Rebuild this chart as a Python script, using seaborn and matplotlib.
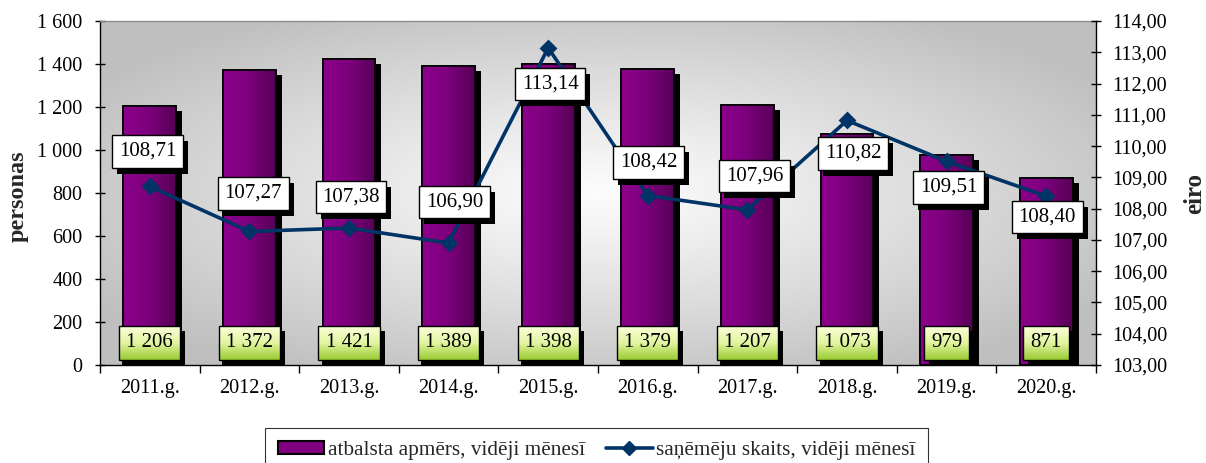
import numpy as np
import pandas as pd
import matplotlib
matplotlib.use("Agg")
import matplotlib.pyplot as plt
import seaborn as sns
import matplotlib.patheffects as pe
from matplotlib.patches import Rectangle, Patch
from matplotlib.lines import Line2D
from matplotlib.ticker import FuncFormatter
from matplotlib.colors import LinearSegmentedColormap

# ---------------- data ----------------
years = ["2011.g.", "2012.g.", "2013.g.", "2014.g.", "2015.g.",
         "2016.g.", "2017.g.", "2018.g.", "2019.g.", "2020.g."]
bar_values = [1206, 1372, 1421, 1389, 1398, 1379, 1207, 1073, 979, 871]
line_values = [108.71, 107.27, 107.38, 106.90, 113.14, 108.42, 107.96, 110.82, 109.51, 108.40]
bar_label = "atbalsta apmērs, vidēji mēnesī"
line_label = "saņēmēju skaits, vidēji mēnesī"
left_title = "personas"
right_title = "eiro"
left_ticks = list(range(0, 1601, 200))
right_ticks = list(range(103, 115))

# label offsets (pixels) for line value boxes
label_offsets = [(-2, 35), (4, 38), (2, 31), (6, 41), (2, -36),
                 (1, 33), (7, 34), (6, -33), (2, -26), (1, -21)]

BAR_COLOR = "#800080"
LINE_COLOR = "#003366"

sns.set_theme(style="white")
plt.rcParams["font.family"] = ["Liberation Serif", "DejaVu Serif"]

W, H = 1206, 463
fig = plt.figure(figsize=(W / 100, H / 100), dpi=100)
ax = fig.add_axes([100 / W, 98 / H, 996 / W, 344 / H])

df = pd.DataFrame({"year": years, "count": bar_values, "amount": line_values})

# background radial gradient
gx, gy = np.meshgrid(np.linspace(-1, 1, 500), np.linspace(-1, 1, 250))
d = np.clip(np.sqrt(gx ** 2 + gy ** 2) / 1.2, 0, 1)
val = 0.99 - (0.99 - 0.75) * d ** 1.1
bg = np.dstack([val, val, val])
ax.imshow(bg, extent=[0, 1, 0, 1], transform=ax.transAxes, aspect="auto",
          zorder=0, interpolation="bilinear")

# bars
sns.barplot(data=df, x="year", y="count", ax=ax, color=BAR_COLOR, width=0.53,
            saturation=1, edgecolor="black", linewidth=1.2, zorder=2)

cmap_bar = LinearSegmentedColormap.from_list("bar", ["#8c008c", "#7c007c", "#560056"])
grad = np.linspace(0, 1, 256).reshape(1, -1)
for p in list(ax.patches):
    p.set_path_effects([pe.SimplePatchShadow(offset=(4.3, -3.6), shadow_rgbFace="black", alpha=1),
                        pe.Normal()])
    x0, w, h = p.get_x(), p.get_width(), p.get_height()
    im = ax.imshow(grad, cmap=cmap_bar, extent=[x0, x0 + w, 0, h], aspect="auto",
                   zorder=2.1, interpolation="bicubic")
    im.set_clip_path(p)
    ax.add_patch(Rectangle((x0, 0), w, h, fill=False, edgecolor="black", lw=1.2, zorder=2.2))

# line on twin axis
ax2 = ax.twinx()
sns.pointplot(data=df, x="year", y="amount", ax=ax2, color=LINE_COLOR, markers="D",
              markersize=7, linewidth=2.6, errorbar=None)

ax.set_xlim(-0.5, len(years) - 0.5)
ax.set_ylim(0, 1600)
ax2.set_ylim(103, 114)

# axes styling
ax.set_xlabel("")
ax.set_ylabel("")
ax2.set_xlabel("")
ax2.set_ylabel("")
ax.set_yticks(left_ticks)
ax2.set_yticks(right_ticks)
ax.yaxis.set_major_formatter(FuncFormatter(lambda v, p: f"{int(v):,}".replace(",", " ")))
ax2.yaxis.set_major_formatter(FuncFormatter(lambda v, p: f"{v:.2f}".replace(".", ",")))
ax.set_xticks(range(len(years)))
ax.set_xticklabels(years)
ax.set_xticks(np.arange(-0.5, len(years), 1), minor=True)

ax.tick_params(axis="x", which="major", length=0, pad=10, labelsize=14.5, colors="black")
ax.tick_params(axis="x", which="minor", bottom=True, direction="out", length=5.5, width=1, color="black")
ax.tick_params(axis="y", left=True, direction="inout", length=7.5, width=1, pad=9,
               labelsize=14.5, colors="black")
ax2.tick_params(axis="y", right=True, direction="inout", length=7.5, width=1, pad=8,
                labelsize=14.5, colors="black")

for s in ["left", "bottom"]:
    ax.spines[s].set_color("black")
    ax.spines[s].set_linewidth(1)
ax.spines["top"].set_color("#8c8c8c")
ax.spines["top"].set_linewidth(1)
ax.spines["right"].set_visible(False)
for s in ["left", "top", "bottom"]:
    ax2.spines[s].set_visible(False)
ax2.spines["right"].set_color("black")
ax2.spines["right"].set_linewidth(1)

# line value labels (white boxes with shadow)
for i, (v, (dx, dy)) in enumerate(zip(line_values, label_offsets)):
    t = ax2.annotate(f"{v:.2f}".replace(".", ","), (i, v), xytext=(dx, dy),
                     textcoords="offset pixels", ha="center", va="center", fontsize=15,
                     color="black", zorder=6,
                     bbox=dict(boxstyle="square,pad=0.32", fc="white", ec="black", lw=1))
    t.get_bbox_patch().set_path_effects([
        pe.SimplePatchShadow(offset=(3.6, -4.3), shadow_rgbFace="black", alpha=1), pe.Normal()])

# bar value labels (green gradient boxes)
green_texts = []
for i, v in enumerate(bar_values):
    t = ax.annotate(f"{v:,}".replace(",", " "), (i, 0.064), xycoords=("data", "axes fraction"),
                    ha="center", va="center", fontsize=15, color="black", zorder=5,
                    bbox=dict(boxstyle="square,pad=0.34", fc="none", ec="black", lw=1))
    green_texts.append(t)

fig.text(18 / W, 1 - 196 / H, left_title, rotation=90, fontweight="bold", fontsize=17.5,
         ha="center", va="center")
fig.text(1195 / W, 1 - 193 / H, right_title, rotation=90, fontweight="bold", fontsize=18,
         ha="center", va="center")

handles = [Patch(facecolor=BAR_COLOR, edgecolor="black", linewidth=1.5, label=bar_label),
           Line2D([], [], color=LINE_COLOR, lw=2.6, marker="D", markersize=7, label=line_label)]
leg = fig.legend(handles=handles, loc="upper center", bbox_to_anchor=(596.5 / W, 1 - 428 / H),
                 ncol=2, frameon=True, fancybox=False, edgecolor="black", fontsize=15.3,
                 handlelength=2.2, handleheight=0.55, handletextpad=0.15, columnspacing=1.0,
                 borderpad=0.6, borderaxespad=0)
leg.get_frame().set_linewidth(0.8)
leg.get_frame().set_facecolor("white")

# draw once to measure the green boxes, then add gradient + shadow
fig.canvas.draw()
renderer = fig.canvas.get_renderer()
cmap_green = LinearSegmentedColormap.from_list("grn", ["#fbffd9", "#e2f4a0", "#98cb30"])
vgrad = np.linspace(0, 1, 128).reshape(-1, 1)
inv = ax.transData.inverted()
for t in green_texts:
    bb = t.get_bbox_patch().get_window_extent(renderer)
    (x0, y0) = inv.transform((bb.x0, bb.y0))
    (x1, y1) = inv.transform((bb.x1, bb.y1))
    (sx0, sy0) = inv.transform((bb.x0 + 5, bb.y0 - 5))
    (sx1, sy1) = inv.transform((bb.x1 + 5, bb.y1 - 5))
    ax.add_patch(Rectangle((sx0, sy0), sx1 - sx0, sy1 - sy0, facecolor="black",
                           edgecolor="none", zorder=3.8))
    ax.imshow(vgrad, cmap=cmap_green, extent=[x0, x1, y0, y1], origin="upper",
              aspect="auto", zorder=4, interpolation="bilinear")

ax.set_xlim(-0.5, len(years) - 0.5)
ax.set_ylim(0, 1600)
ax2.set_ylim(103, 114)

fig.savefig("out.png", dpi=100)
